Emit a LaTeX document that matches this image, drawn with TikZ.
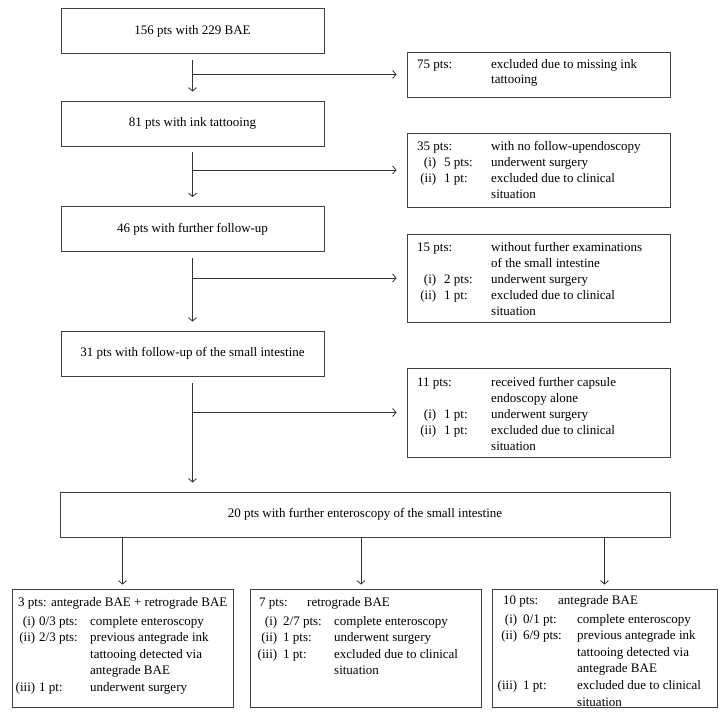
\documentclass[tikz,border=0pt]{standalone}
\usepackage{fontspec}
\setmainfont{Liberation Serif}
\usetikzlibrary{arrows.meta}
\newcommand{\cols}[6]{\makebox[#1][r]{#4}\hspace{#2}\makebox[#3][l]{#5}#6}
\tikzset{
  box/.style={draw=black!75, line width=0.8pt, inner sep=0pt, font=\fontsize{13}{16}\selectfont},
  txt/.style={inner sep=0pt, anchor=base west, font=\fontsize{13}{16}\selectfont},
  txtb/.style={inner sep=0pt, anchor=base west, font=\fontsize{13}{16.6}\selectfont},
  arr/.style={draw=black!80, line width=0.8pt, -{Straight Barb[length=3.5pt,width=8pt]}}
}
\begin{document}
\begin{tikzpicture}[x=1pt,y=-1pt]
\useasboundingbox (0,0) rectangle (725,717);
% main column
\node[box, minimum width=263pt, minimum height=45pt] (m1) at (192.5,31) {156 pts with 229 BAE};
\node[box, minimum width=263pt, minimum height=45pt] (m2) at (192.5,123.5) {81 pts with ink tattooing};
\node[box, minimum width=263pt, minimum height=45pt] (m3) at (192.5,229) {46 pts with further follow-up};
\node[box, minimum width=263pt, minimum height=45pt] (m4) at (192.5,353.5) {31 pts with follow-up of the small intestine};
\node[box, minimum width=610pt, minimum height=45pt] (m5) at (365,514.5) {20 pts with further enteroscopy of the small intestine};
% right boxes
\node[box, minimum width=263pt, minimum height=45pt] (r1) at (538.5,74.5) {};
\node[box, minimum width=263pt, minimum height=74pt] (r2) at (538.5,170) {};
\node[box, minimum width=263pt, minimum height=88pt] (r3) at (538.5,278) {};
\node[box, minimum width=263pt, minimum height=89pt] (r4) at (538.5,412.5) {};
% bottom boxes
\node[box, minimum width=221pt, minimum height=118pt] (b1) at (122.5,648) {};
\node[box, minimum width=231pt, minimum height=118pt] (b2) at (365.5,648) {};
\node[box, minimum width=225pt, minimum height=118pt] (b3) at (604.5,648) {};
% texts of right boxes
\node[txt] (tr1) at (417,68) {\begin{tabular}[t]{@{}l@{}}
\makebox[74pt][l]{75 pts:}excluded due to missing ink\\
\hspace{74pt}tattooing
\end{tabular}};
\node[txt] (tr2) at (417,150) {\begin{tabular}[t]{@{}l@{}}
\makebox[74pt][l]{35 pts:}with no follow-upendoscopy\\
\cols{19pt}{8pt}{47pt}{(i)}{5 pts:}{underwent surgery}\\
\cols{19pt}{8pt}{47pt}{(ii)}{1 pt:}{excluded due to clinical}\\
\hspace{74pt}situation
\end{tabular}};
\node[txt] (tr3) at (417,251) {\begin{tabular}[t]{@{}l@{}}
\makebox[74pt][l]{15 pts:}without further examinations\\
\hspace{74pt}of the small intestine\\
\cols{19pt}{8pt}{47pt}{(i)}{2 pts:}{underwent surgery}\\
\cols{19pt}{8pt}{47pt}{(ii)}{1 pt:}{excluded due to clinical}\\
\hspace{74pt}situation
\end{tabular}};
\node[txt] (tr4) at (417,386) {\begin{tabular}[t]{@{}l@{}}
\makebox[74pt][l]{11 pts:}received further capsule\\
\hspace{74pt}endoscopy alone\\
\cols{19pt}{8pt}{47pt}{(i)}{1 pt:}{underwent surgery}\\
\cols{19pt}{8pt}{47pt}{(ii)}{1 pt:}{excluded due to clinical}\\
\hspace{74pt}situation
\end{tabular}};
% texts of bottom boxes
\node[txtb] (tb1) at (18,606) {\begin{tabular}[t]{@{}l@{}}
3 pts: antegrade BAE + retrograde BAE\\[2.4pt]
\cols{17pt}{4pt}{51pt}{(i)}{0/3 pts:}{complete enteroscopy}\\
\cols{17pt}{4pt}{51pt}{(ii)}{2/3 pts:}{previous antegrade ink}\\
\hspace{72pt}tattooing detected via\\
\hspace{72pt}antegrade BAE\\
\cols{17pt}{4pt}{51pt}{(iii)}{1 pt:}{underwent surgery}
\end{tabular}};
\node[txtb] (tb2) at (259,606) {\begin{tabular}[t]{@{}l@{}}
\makebox[48pt][l]{7 pts:}retrograde BAE\\[2.4pt]
\cols{18pt}{6pt}{51pt}{(i)}{2/7 pts:}{complete enteroscopy}\\
\cols{18pt}{6pt}{51pt}{(ii)}{1 pts:}{underwent surgery}\\
\cols{18pt}{6pt}{51pt}{(iii)}{1 pt:}{excluded due to clinical}\\
\hspace{75pt}situation
\end{tabular}};
\node[txtb] (tb3) at (498,604) {\begin{tabular}[t]{@{}l@{}}
\hspace{5pt}\makebox[55pt][l]{10 pts:}antegrade BAE\\[2.4pt]
\cols{19pt}{6pt}{54pt}{(i)}{0/1 pt:}{complete enteroscopy}\\
\cols{19pt}{6pt}{54pt}{(ii)}{6/9 pts:}{previous antegrade ink}\\
\hspace{79pt}tattooing detected via\\
\hspace{79pt}antegrade BAE\\
\cols{19pt}{6pt}{54pt}{(iii)}{1 pt:}{excluded due to clinical}\\
\hspace{79pt}situation
\end{tabular}};
% vertical connectors
\draw[arr, shorten <=6pt, shorten >=9pt] (m1.south) -- (m2.north);
\draw[arr, shorten <=6pt, shorten >=9pt] (m2.south) -- (m3.north);
\draw[arr, shorten <=6pt, shorten >=9pt] (m3.south) -- (m4.north);
\draw[arr, shorten <=7pt, shorten >=9pt] (m4.south) -- (m4.south |- m5.north);
% branches
\draw[arr, shorten >=10pt] (r1.west -| m1.south) -- (r1.west);
\draw[arr, shorten >=10pt] (r2.west -| m2.south) -- (r2.west);
\draw[arr, shorten >=10pt] (r3.west -| m3.south) -- (r3.west);
\draw[arr, shorten >=10pt] (r4.west -| m4.south) -- (r4.west);
% bottom arrows
\draw[arr, shorten >=4pt] (b1.north |- m5.south) -- (b1.north);
\draw[arr, shorten >=4pt] ([xshift=-4.5pt]b2.north |- m5.south) -- ([xshift=-4.5pt]b2.north);
\draw[arr, shorten >=4pt] (b3.north |- m5.south) -- (b3.north);
\end{tikzpicture}
\end{document}
